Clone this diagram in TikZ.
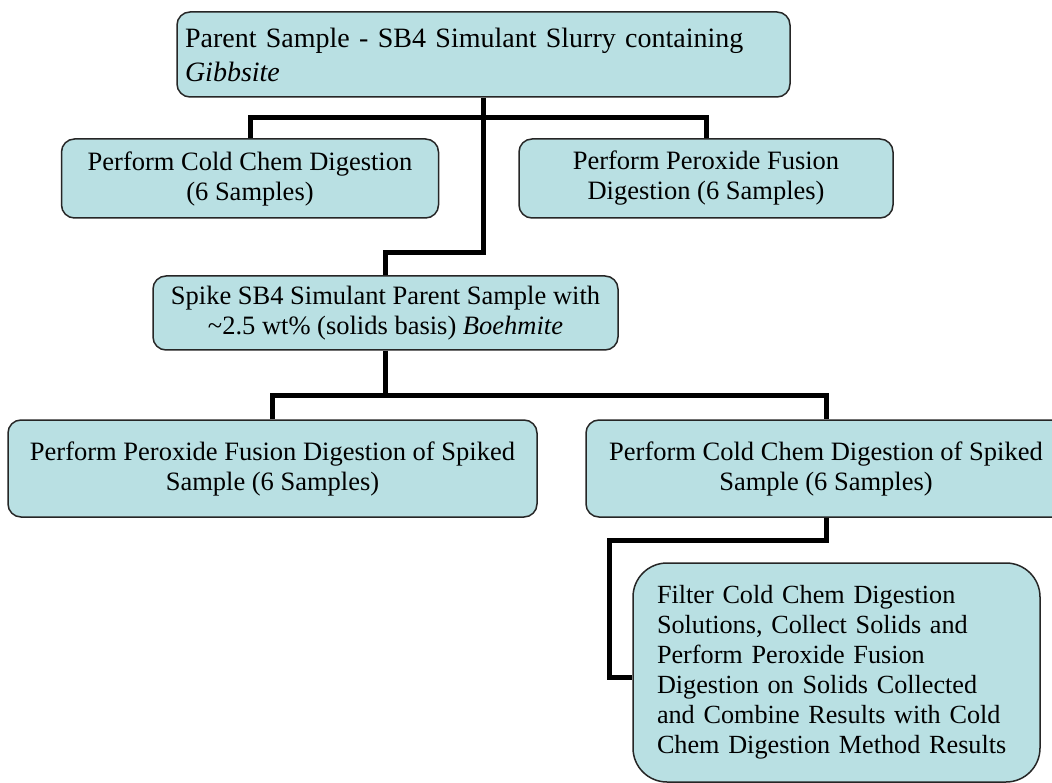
\documentclass[tikz,border=0pt]{standalone}
\usepackage{fontspec}
\setmainfont{Liberation Serif}
\usetikzlibrary{positioning,calc}
\definecolor{boxfill}{RGB}{185,224,227}

\tikzset{
  stepbox/.style={draw=black!85, line width=1.5pt, fill=boxfill, rounded corners=13pt,
    inner sep=0pt, align=center, font=\fontsize{26.5}{30}\selectfont},
  link/.style={line width=5pt}
}

\begin{document}
\begin{tikzpicture}[x=1pt, y=-1pt]
  \clip (0,0) rectangle (1052,783);
  \fill[white] (0,0) rectangle (1052,783);

  \node[stepbox, minimum width=613pt, minimum height=85pt, text width=597pt, align=left,
        font=\fontsize{28}{34}\selectfont] (parent) at (483.5,54.5)
        {Parent Sample - SB4 Simulant Slurry containing\\ \textit{Gibbsite}};
  \node[stepbox, minimum width=377pt, minimum height=79pt] (cold) at (250,178.5)
        {Perform Cold Chem Digestion\\(6 Samples)};
  \node[stepbox, minimum width=374pt, minimum height=79pt] (perox) at (706,178.5)
        {Perform Peroxide Fusion\\Digestion (6 Samples)};
  \node[stepbox, minimum width=465pt, minimum height=74pt] (spike) at (385.5,313)
        {Spike SB4 Simulant Parent Sample with\\\textasciitilde2.5 wt\% (solids basis) \textit{Boehmite}};
  \node[stepbox, minimum width=529pt, minimum height=97pt] (pfspiked) at (272.5,468.5)
        {Perform Peroxide Fusion Digestion of Spiked\\Sample (6 Samples)};
  \node[stepbox, minimum width=480pt, minimum height=97pt] (ccspiked) at (826,468.5)
        {Perform Cold Chem Digestion of Spiked\\Sample (6 Samples)};
  \node[stepbox, rounded corners=34pt, minimum width=407pt, minimum height=219pt,
        text width=359pt, align=left, font=\fontsize{26.2}{30}\selectfont] (filter) at (836.5,672.5)
        {Filter Cold Chem Digestion\\Solutions, Collect Solids and\\Perform Peroxide Fusion\\
         Digestion on Solids Collected\\and Combine Results with Cold\\Chem Digestion Method Results};

  \draw[link] (cold.north) -- ++(0,-21) -| (perox.north);
  \draw[link] (parent.south) -- ++(0,155) -| (spike.north);
  \draw[link] (pfspiked.north) -- ++(0,-24) -| (ccspiked.north);
  \draw[link] (spike.south) -- ++(0,47);
  \draw[link] (ccspiked.south) -- ++(0,23) -| ([xshift=-23pt,yshift=-4.5pt]filter.west) -- ([yshift=-4.5pt]filter.west);
\end{tikzpicture}
\end{document}
